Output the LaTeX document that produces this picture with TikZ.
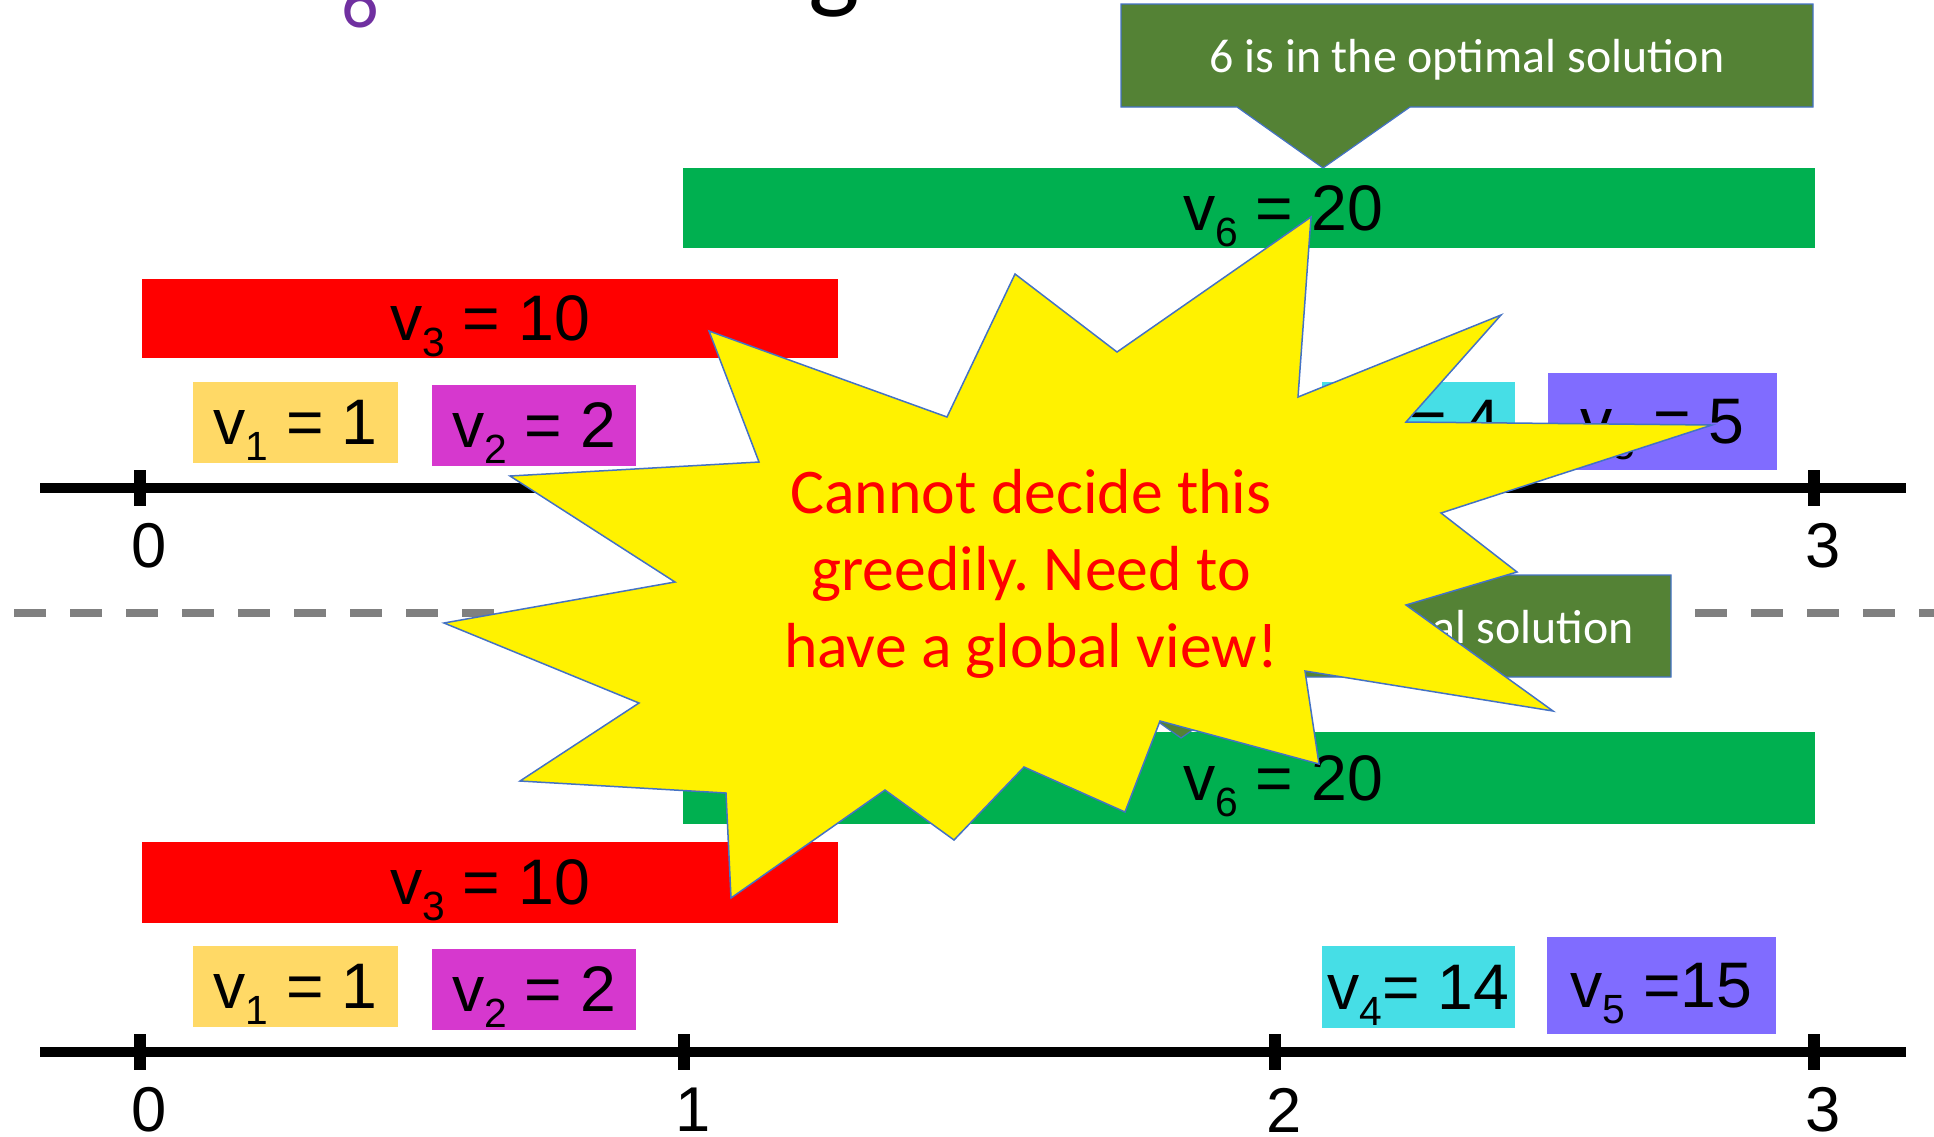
\documentclass[tikz,border=0pt]{standalone}
\usepackage{fontspec}
\setmainfont{Liberation Sans}
\newfontfamily\calfont{Carlito}
\frenchspacing

\definecolor{barGreen}{RGB}{0,176,80}
\definecolor{barRed}{RGB}{255,0,0}
\definecolor{barGold}{RGB}{255,217,102}
\definecolor{barMagenta}{RGB}{214,56,206}
\definecolor{barCyan}{RGB}{70,222,230}
\definecolor{barViolet}{RGB}{128,108,255}
\definecolor{calloutGreen}{RGB}{84,130,53}
\definecolor{shapeBlue}{RGB}{68,114,196}
\definecolor{titlePurple}{RGB}{112,48,160}

\newcommand{\barfont}{\fontsize{18.3}{22}\selectfont}
\newcommand{\vsub}[1]{v\raisebox{-4.6pt}{\fontsize{11.6}{13}\selectfont #1}}

\begin{document}
\begin{tikzpicture}[x=0.01cm, y=-0.01cm,
    interval/.style={rectangle, inner sep=0pt, text height=0.44cm, text depth=0cm, font=\barfont},
    axis/.style={line width=0.1cm},
    tickmark/.style={line width=0.12cm},
    ticklabel/.style={inner sep=0pt, font=\fontsize{18}{20}\selectfont},
    callout/.style={fill=calloutGreen, draw=shapeBlue, line width=0.012cm},
    callouttext/.style={anchor=base, inner sep=0pt, text=white, font=\calfont\fontsize{13.6}{16}\selectfont},
    burst/.style={fill=yellow, draw=shapeBlue, line width=0.015cm},
    bursttext/.style={align=center, inner sep=0pt, text=red, font=\calfont\fontsize{18.1}{21.9}\selectfont}]
  \useasboundingbox (0,0) rectangle (1934,1136);
  \clip (0,0) rectangle (1934,1136);
  % Title, cut off at the top edge
  \node[anchor=base, inner sep=0pt, text=titlePurple, font=\calfont\fontsize{21}{24}\selectfont] (titlesub) at (360,27) {6};
  \node[anchor=south, inner sep=0pt, font=\calfont\fontsize{31}{34}\selectfont] (titleg) at (834,18) {g};
  % Separator between the two cases
  \draw[gray, line width=0.08cm, dash pattern=on 0.32cm off 0.24cm] (14,613) -- (1934,613);
  % Time axes with ticks 0..3
  \foreach \ay in {488,1052} {
    \draw[axis] (40,\ay) -- (1906,\ay);
    \foreach \tx [count=\ti from 0] in {140,684,1275,1814} {
      \draw[tickmark] (\tx,\ay-18) -- (\tx,\ay+18);
      \node[ticklabel] (lbl-\ay-\ti) at (\tx+9,\ay+58) {\ti};
    }
  }
  % Intervals, upper case
  \node[interval, fill=barGreen, minimum width=11.32cm, minimum height=0.80cm] (v6top) at (1249,208) {\hspace*{0.68cm}\vsub{6} = 20};
  \node[interval, fill=barRed, minimum width=6.96cm, minimum height=0.79cm] (v3top) at (490,318.5) {\vsub{3} = 10};
  \node[interval, fill=barGold, minimum width=2.05cm, minimum height=0.81cm] (v1top) at (295.5,422.5) {\vsub{1} = 1};
  \node[interval, fill=barMagenta, minimum width=2.04cm, minimum height=0.81cm] (v2top) at (534,425.5) {\vsub{2} = 2};
  \node[interval, fill=barCyan, minimum width=1.93cm, minimum height=0.81cm] (v4top) at (1418.5,422.5) {\vsub{4} = 4};
  \node[interval, fill=barViolet, minimum width=2.29cm, minimum height=0.97cm] (v5top) at (1662.5,421.5) {\vsub{5} = 5};
  % Intervals, lower case
  \node[interval, fill=barGreen, minimum width=11.32cm, minimum height=0.92cm] (v6bot) at (1249,778) {\hspace*{0.68cm}\vsub{6} = 20};
  \node[interval, fill=barRed, minimum width=6.96cm, minimum height=0.81cm] (v3bot) at (490,882.5) {\vsub{3} = 10};
  \node[interval, fill=barGold, minimum width=2.05cm, minimum height=0.81cm] (v1bot) at (295.5,986.5) {\vsub{1} = 1};
  \node[interval, fill=barMagenta, minimum width=2.04cm, minimum height=0.81cm] (v2bot) at (534,989.5) {\vsub{2} = 2};
  \node[interval, fill=barCyan, minimum width=1.93cm, minimum height=0.82cm] (v4bot) at (1418.5,987) {\vsub{4}= 14};
  \node[interval, fill=barViolet, minimum width=2.29cm, minimum height=0.97cm] (v5bot) at (1661.5,985.5) {\vsub{5} =15};
  % Callouts
  \draw[callout] (1121,4) -- (1813,4) -- (1813,107) -- (1410,107) -- (1323,168) -- (1237,107) -- (1121,107) -- cycle;
  \node[callouttext] (notetop) at (1467,72) {6 is in the optimal solution};
  \draw[callout] (979,575) -- (1671,575) -- (1671,677) -- (1268,677) -- (1181,738) -- (1095,677) -- (979,677) -- cycle;
  \node[callouttext] (notebot) at (1338,643) {6 is not in the optimal solution};
  % Explosion over the middle
  \draw[burst] (1311,217) -- (1298,397) -- (1501,315) -- (1406,422) -- (1712,425) -- (1441,513)
    -- (1517,572) -- (1406,605) -- (1553,711) -- (1305,671) -- (1319,764) -- (1160,721)
    -- (1125,812) -- (1024,767) -- (954,840) -- (885,790) -- (731,898) -- (726,793)
    -- (520,781) -- (639,703) -- (444,623) -- (675,582) -- (510,476) -- (759,462)
    -- (709,331) -- (947,417) -- (1015,274) -- (1117,352) -- cycle;
  \node[bursttext] (verdict) at (1031,574) {Cannot decide this\\greedily. Need to\\have a global view!};
\end{tikzpicture}
\end{document}
